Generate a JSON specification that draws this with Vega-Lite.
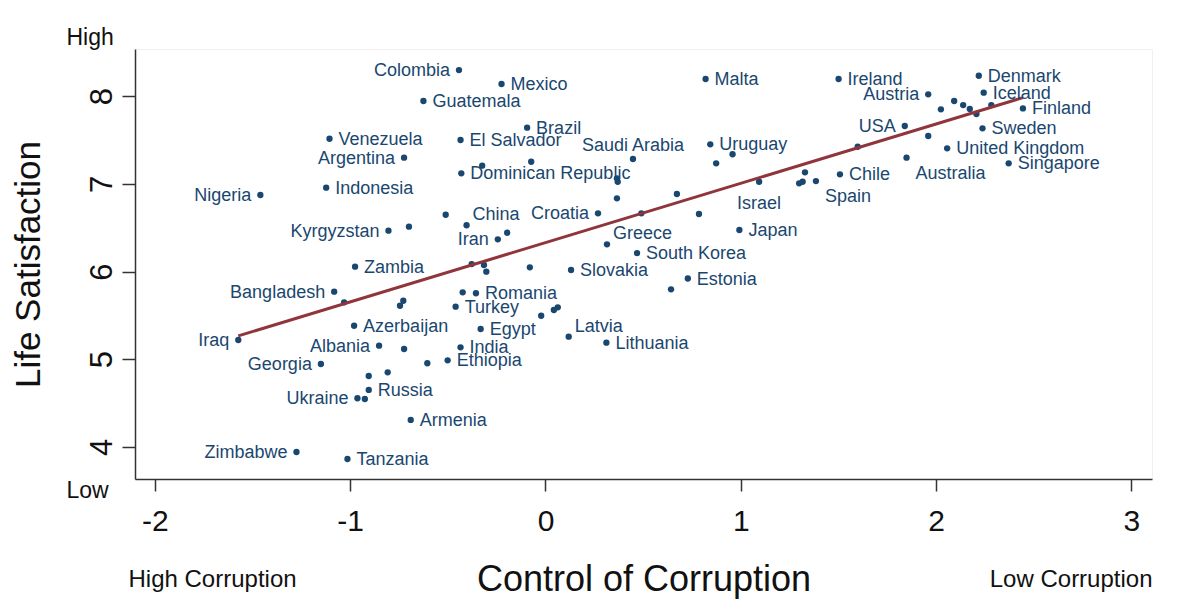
{
  "$schema": "https://vega.github.io/schema/vega-lite/v6.json",
  "autosize": "none",
  "width": 1017,
  "height": 430,
  "padding": {"left": 135, "top": 49, "right": 31, "bottom": 135},
  "background": "white",
  "config": {
    "view": {"stroke": "#f0f0f0"},
    "font": "Liberation Sans",
    "text": {"font": "Liberation Sans"}
  },
  "data": {"values": [
    {"country": "Colombia", "cc": -0.443, "ls": 8.296, "pos": "l"},
    {"country": "Mexico", "cc": -0.225, "ls": 8.137, "pos": "r"},
    {"country": "Guatemala", "cc": -0.625, "ls": 7.943, "pos": "r"},
    {"country": "Brazil", "cc": -0.094, "ls": 7.639, "pos": "r"},
    {"country": "Venezuela", "cc": -1.106, "ls": 7.513, "pos": "r"},
    {"country": "El Salvador", "cc": -0.435, "ls": 7.499, "pos": "r"},
    {"country": "Argentina", "cc": -0.724, "ls": 7.297, "pos": "l"},
    {"country": "", "cc": -0.324, "ls": 7.206, "pos": "none"},
    {"country": "", "cc": -0.073, "ls": 7.251, "pos": "none"},
    {"country": "Dominican Republic", "cc": -0.431, "ls": 7.119, "pos": "r"},
    {"country": "Indonesia", "cc": -1.123, "ls": 6.955, "pos": "r"},
    {"country": "Nigeria", "cc": -1.46, "ls": 6.872, "pos": "l"},
    {"country": "", "cc": -0.511, "ls": 6.647, "pos": "none"},
    {"country": "China", "cc": -0.404, "ls": 6.527, "pos": "ur"},
    {"country": "Kyrgyzstan", "cc": -0.804, "ls": 6.465, "pos": "l"},
    {"country": "", "cc": -0.699, "ls": 6.511, "pos": "none"},
    {"country": "Iran", "cc": -0.244, "ls": 6.367, "pos": "l"},
    {"country": "", "cc": -0.196, "ls": 6.442, "pos": "none"},
    {"country": "Zambia", "cc": -0.975, "ls": 6.055, "pos": "r"},
    {"country": "", "cc": -0.378, "ls": 6.085, "pos": "none"},
    {"country": "", "cc": -0.315, "ls": 6.074, "pos": "none"},
    {"country": "", "cc": -0.303, "ls": 5.998, "pos": "none"},
    {"country": "", "cc": -0.08, "ls": 6.048, "pos": "none"},
    {"country": "Bangladesh", "cc": -1.082, "ls": 5.77, "pos": "l"},
    {"country": "", "cc": -1.031, "ls": 5.649, "pos": "none"},
    {"country": "", "cc": -0.745, "ls": 5.61, "pos": "none"},
    {"country": "", "cc": -0.728, "ls": 5.667, "pos": "none"},
    {"country": "", "cc": -0.424, "ls": 5.763, "pos": "none"},
    {"country": "Romania", "cc": -0.356, "ls": 5.752, "pos": "r"},
    {"country": "Turkey", "cc": -0.46, "ls": 5.599, "pos": "r"},
    {"country": "", "cc": -0.022, "ls": 5.496, "pos": "none"},
    {"country": "", "cc": 0.043, "ls": 5.561, "pos": "none"},
    {"country": "", "cc": 0.063, "ls": 5.592, "pos": "none"},
    {"country": "Azerbaijan", "cc": -0.98, "ls": 5.382, "pos": "r"},
    {"country": "Egypt", "cc": -0.332, "ls": 5.345, "pos": "r"},
    {"country": "Iraq", "cc": -1.573, "ls": 5.219, "pos": "l"},
    {"country": "Albania", "cc": -0.852, "ls": 5.155, "pos": "l"},
    {"country": "", "cc": -0.724, "ls": 5.117, "pos": "none"},
    {"country": "India", "cc": -0.435, "ls": 5.136, "pos": "r"},
    {"country": "Georgia", "cc": -1.15, "ls": 4.946, "pos": "l"},
    {"country": "", "cc": -0.605, "ls": 4.954, "pos": "none"},
    {"country": "Ethiopia", "cc": -0.501, "ls": 4.988, "pos": "r"},
    {"country": "", "cc": -0.905, "ls": 4.809, "pos": "none"},
    {"country": "", "cc": -0.808, "ls": 4.851, "pos": "none"},
    {"country": "Russia", "cc": -0.905, "ls": 4.65, "pos": "r"},
    {"country": "Ukraine", "cc": -0.963, "ls": 4.555, "pos": "l"},
    {"country": "", "cc": -0.925, "ls": 4.547, "pos": "none"},
    {"country": "Armenia", "cc": -0.69, "ls": 4.308, "pos": "r"},
    {"country": "Zimbabwe", "cc": -1.275, "ls": 3.943, "pos": "l"},
    {"country": "Tanzania", "cc": -1.014, "ls": 3.863, "pos": "r"},
    {"country": "Slovakia", "cc": 0.131, "ls": 6.017, "pos": "r"},
    {"country": "Estonia", "cc": 0.729, "ls": 5.92, "pos": "r"},
    {"country": "", "cc": 0.643, "ls": 5.797, "pos": "none"},
    {"country": "Latvia", "cc": 0.119, "ls": 5.257, "pos": "ur"},
    {"country": "Lithuania", "cc": 0.312, "ls": 5.189, "pos": "r"},
    {"country": "South Korea", "cc": 0.469, "ls": 6.21, "pos": "r"},
    {"country": "Malta", "cc": 0.82, "ls": 8.194, "pos": "r"},
    {"country": "Ireland", "cc": 1.501, "ls": 8.194, "pos": "r"},
    {"country": "Austria", "cc": 1.96, "ls": 8.019, "pos": "l"},
    {"country": "", "cc": 2.093, "ls": 7.943, "pos": "none"},
    {"country": "", "cc": 2.025, "ls": 7.848, "pos": "none"},
    {"country": "USA", "cc": 1.84, "ls": 7.658, "pos": "l"},
    {"country": "", "cc": 1.96, "ls": 7.544, "pos": "none"},
    {"country": "United Kingdom", "cc": 2.057, "ls": 7.404, "pos": "r"},
    {"country": "", "cc": 1.599, "ls": 7.422, "pos": "none"},
    {"country": "Australia", "cc": 1.849, "ls": 7.297, "pos": "br"},
    {"country": "Saudi Arabia", "cc": 0.448, "ls": 7.282, "pos": "t"},
    {"country": "Uruguay", "cc": 0.844, "ls": 7.449, "pos": "r"},
    {"country": "", "cc": 0.958, "ls": 7.336, "pos": "none"},
    {"country": "", "cc": 0.874, "ls": 7.233, "pos": "none"},
    {"country": "", "cc": 0.366, "ls": 7.062, "pos": "none"},
    {"country": "", "cc": 0.37, "ls": 7.023, "pos": "none"},
    {"country": "", "cc": 0.366, "ls": 6.834, "pos": "none"},
    {"country": "", "cc": 0.673, "ls": 6.883, "pos": "none"},
    {"country": "Croatia", "cc": 0.269, "ls": 6.663, "pos": "l"},
    {"country": "", "cc": 0.491, "ls": 6.663, "pos": "none"},
    {"country": "", "cc": 0.786, "ls": 6.655, "pos": "none"},
    {"country": "Israel", "cc": 1.094, "ls": 7.023, "pos": "b"},
    {"country": "", "cc": 1.329, "ls": 7.13, "pos": "none"},
    {"country": "", "cc": 1.299, "ls": 7.005, "pos": "none"},
    {"country": "", "cc": 1.317, "ls": 7.023, "pos": "none"},
    {"country": "Spain", "cc": 1.385, "ls": 7.031, "pos": "br"},
    {"country": "Chile", "cc": 1.508, "ls": 7.108, "pos": "r"},
    {"country": "Japan", "cc": 0.993, "ls": 6.473, "pos": "r"},
    {"country": "Greece", "cc": 0.315, "ls": 6.31, "pos": "ur"},
    {"country": "Denmark", "cc": 2.219, "ls": 8.231, "pos": "r"},
    {"country": "Iceland", "cc": 2.244, "ls": 8.038, "pos": "r"},
    {"country": "", "cc": 2.139, "ls": 7.897, "pos": "none"},
    {"country": "", "cc": 2.173, "ls": 7.852, "pos": "none"},
    {"country": "", "cc": 2.207, "ls": 7.795, "pos": "none"},
    {"country": "", "cc": 2.283, "ls": 7.897, "pos": "none"},
    {"country": "Finland", "cc": 2.445, "ls": 7.859, "pos": "r"},
    {"country": "Sweden", "cc": 2.238, "ls": 7.632, "pos": "r"},
    {"country": "Singapore", "cc": 2.372, "ls": 7.233, "pos": "r"}
  ]},
  "resolve": {"axis": {"x": "independent", "y": "independent"}},
  "layer": [
    {
      "mark": {"type": "point", "filled": true, "opacity": 1, "size": 40, "color": "#1a476f"},
      "encoding": {
        "x": {"field": "cc", "type": "quantitative",
          "scale": {"domain": [-2.102, 3.106], "nice": false, "zero": false},
          "axis": {"title": "Control of Corruption", "values": [-2, -1, 0, 1, 2, 3], "grid": false,
            "labelExpr": "'' + datum.value",
            "domainColor": "#333333", "domainWidth": 1.5, "tickColor": "#333333", "tickWidth": 1.5, "tickSize": 12,
            "labelFontSize": 30, "labelColor": "#111111", "labelPadding": 15, "labelFont": "Liberation Sans",
            "titleFontSize": 36, "titleFontWeight": "normal", "titleColor": "#111111", "titlePadding": 26, "titleFont": "Liberation Sans"}},
        "y": {"field": "ls", "type": "quantitative",
          "scale": {"domain": [3.635, 8.536], "nice": false, "zero": false},
          "axis": {"title": "Life Satisfaction", "values": [4, 5, 6, 7, 8], "grid": false,
            "domainColor": "#333333", "domainWidth": 1.5, "tickColor": "#333333", "tickWidth": 1.5, "tickSize": 13,
            "labelAngle": 270, "labelAlign": "center", "labelBaseline": "bottom",
            "labelFontSize": 31, "labelColor": "#111111", "labelPadding": 4, "labelFont": "Liberation Sans",
            "titleFontSize": 35, "titleFontWeight": "normal", "titleColor": "#111111", "titlePadding": 40, "titleFont": "Liberation Sans"}}
      }
    },
    {
      "transform": [{"regression": "ls", "on": "cc"}],
      "mark": {"type": "line", "color": "#90353b", "strokeWidth": 3},
      "encoding": {
        "x": {"field": "cc", "type": "quantitative",
          "axis": {"orient": "bottom", "title": null, "values": [-2.102, 3.106], "grid": false, "domain": false, "ticks": false, "tickSize": 0,
            "labelExpr": "datum.value < 0 ? 'High Corruption' : 'Low Corruption'",
            "labelAlign": {"condition": {"test": "datum.value < 0", "value": "left"}, "value": "right"},
            "labelOffset": {"condition": {"test": "datum.value < 0", "value": -7}, "value": 0},
            "labelBaseline": "top", "labelPadding": 88, "labelFontSize": 24, "labelColor": "#111111",
            "labelBound": false, "labelOverlap": false, "labelFlush": false, "labelFont": "Liberation Sans"}},
        "y": {"field": "ls", "type": "quantitative",
          "axis": {"orient": "left", "title": null, "values": [3.635, 8.536], "grid": false, "domain": false, "ticks": false, "tickSize": 0,
            "labelExpr": "datum.value > 6 ? 'High' : 'Low'",
            "labelAlign": "left",
            "labelBaseline": {"condition": {"test": "datum.value > 6", "value": "bottom"}, "value": "top"},
            "labelPadding": 69, "labelFontSize": 23, "labelColor": "#111111",
            "labelBound": false, "labelOverlap": false, "labelFlush": false, "labelFont": "Liberation Sans"}}
      }
    },
    {
      "transform": [{"filter": "datum.pos === 'r'"}],
      "mark": {"type": "text", "align": "left", "baseline": "middle", "dx": 9, "dy": 1, "fontSize": 18, "color": "#1a476f"},
      "encoding": {
        "x": {"field": "cc", "type": "quantitative", "axis": null},
        "y": {"field": "ls", "type": "quantitative", "axis": null},
        "text": {"field": "country"}
      }
    },
    {
      "transform": [{"filter": "datum.pos === 'l'"}],
      "mark": {"type": "text", "align": "right", "baseline": "middle", "dx": -9, "dy": 1, "fontSize": 18, "color": "#1a476f"},
      "encoding": {
        "x": {"field": "cc", "type": "quantitative", "axis": null},
        "y": {"field": "ls", "type": "quantitative", "axis": null},
        "text": {"field": "country"}
      }
    },
    {
      "transform": [{"filter": "datum.pos === 'ur'"}],
      "mark": {"type": "text", "align": "left", "baseline": "middle", "dx": 6, "dy": -10, "fontSize": 18, "color": "#1a476f"},
      "encoding": {
        "x": {"field": "cc", "type": "quantitative", "axis": null},
        "y": {"field": "ls", "type": "quantitative", "axis": null},
        "text": {"field": "country"}
      }
    },
    {
      "transform": [{"filter": "datum.pos === 'br'"}],
      "mark": {"type": "text", "align": "left", "baseline": "middle", "dx": 9, "dy": 16, "fontSize": 18, "color": "#1a476f"},
      "encoding": {
        "x": {"field": "cc", "type": "quantitative", "axis": null},
        "y": {"field": "ls", "type": "quantitative", "axis": null},
        "text": {"field": "country"}
      }
    },
    {
      "transform": [{"filter": "datum.pos === 't'"}],
      "mark": {"type": "text", "align": "center", "baseline": "middle", "dy": -13, "fontSize": 18, "color": "#1a476f"},
      "encoding": {
        "x": {"field": "cc", "type": "quantitative", "axis": null},
        "y": {"field": "ls", "type": "quantitative", "axis": null},
        "text": {"field": "country"}
      }
    },
    {
      "transform": [{"filter": "datum.pos === 'b'"}],
      "mark": {"type": "text", "align": "center", "baseline": "middle", "dy": 22, "fontSize": 18, "color": "#1a476f"},
      "encoding": {
        "x": {"field": "cc", "type": "quantitative", "axis": null},
        "y": {"field": "ls", "type": "quantitative", "axis": null},
        "text": {"field": "country"}
      }
    }
  ]
}
